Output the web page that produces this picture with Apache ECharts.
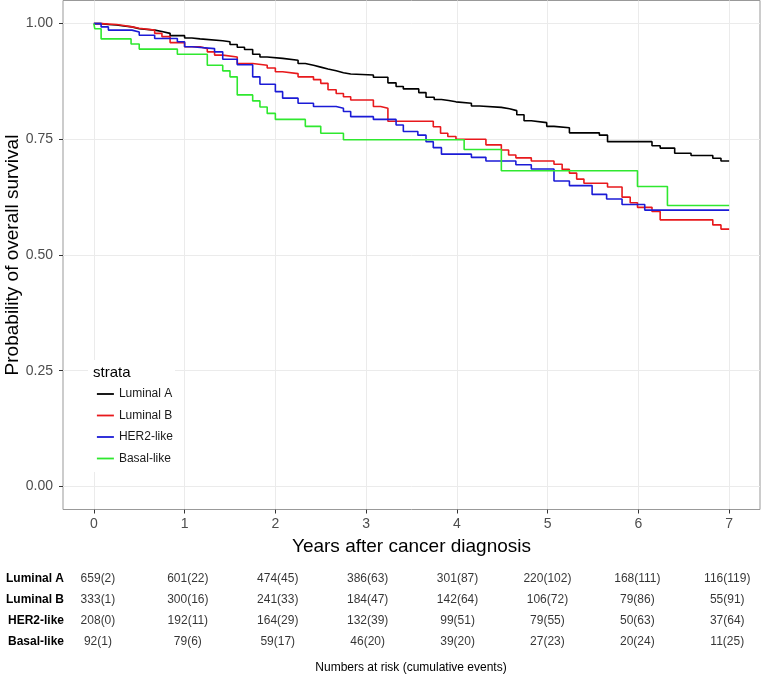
<!DOCTYPE html>
<html><head><meta charset="utf-8">
<script src="https://cdn.jsdelivr.net/npm/echarts@6/dist/echarts.min.js"></script>
<style>html,body{margin:0;padding:0;background:#fff}#c{width:761px;height:676px}</style>
</head><body><div id="c"></div>
<script>
// ---- data ----
const strataNames = ['Luminal A', 'Luminal B', 'HER2-like', 'Basal-like'];
const xTicks = [0, 1, 2, 3, 4, 5, 6, 7];
const yTicks = [0, 0.25, 0.5, 0.75, 1];

// Kaplan-Meier steps: [years, survival after step]
const lumA = [[0,1],[0.08,0.998],[0.16,0.997],[0.25,0.995],[0.33,0.993],[0.42,0.989],[0.5,0.986],[0.67,0.983],[0.75,0.979],[0.84,0.974],[1.0,0.969],[1.08,0.967],[1.17,0.963],[1.42,0.961],[1.5,0.955],[1.58,0.949],[1.66,0.944],[1.75,0.934],[1.83,0.928],[1.91,0.925],[2.08,0.921],[2.25,0.914],[2.33,0.910],[2.42,0.906],[2.5,0.902],[2.58,0.898],[2.67,0.894],[2.75,0.891],[2.83,0.889],[3.08,0.884],[3.24,0.872],[3.33,0.864],[3.41,0.859],[3.58,0.851],[3.66,0.841],[3.75,0.836],[3.83,0.834],[3.91,0.831],[3.99,0.828],[4.16,0.822],[4.25,0.819],[4.49,0.816],[4.58,0.812],[4.66,0.803],[4.74,0.790],[4.82,0.786],[4.99,0.778],[5.07,0.775],[5.24,0.764],[5.57,0.759],[5.66,0.745],[6.15,0.736],[6.24,0.731],[6.40,0.720],[6.58,0.715],[6.82,0.709],[6.91,0.703],[7.0,0.703]];
const lumB = [[0,1],[0.08,0.998],[0.25,0.996],[0.33,0.993],[0.42,0.990],[0.5,0.986],[0.67,0.979],[0.75,0.972],[0.84,0.959],[1.0,0.950],[1.17,0.946],[1.25,0.939],[1.33,0.932],[1.42,0.928],[1.58,0.914],[1.75,0.910],[1.91,0.904],[2.0,0.896],[2.08,0.892],[2.25,0.885],[2.42,0.879],[2.5,0.871],[2.58,0.857],[2.67,0.849],[2.75,0.842],[2.83,0.835],[3.08,0.821],[3.16,0.817],[3.24,0.789],[3.74,0.777],[3.82,0.763],[3.90,0.756],[3.99,0.750],[4.32,0.738],[4.49,0.727],[4.57,0.716],[4.65,0.710],[4.82,0.703],[5.07,0.696],[5.16,0.685],[5.24,0.677],[5.32,0.664],[5.40,0.655],[5.66,0.647],[5.82,0.625],[5.91,0.613],[5.99,0.603],[6.15,0.594],[6.24,0.576],[6.82,0.565],[6.91,0.556],[7.0,0.556]];
const her2 = [[0,1],[0.08,0.993],[0.16,0.986],[0.42,0.982],[0.5,0.975],[0.67,0.968],[0.92,0.961],[1.0,0.950],[1.08,0.946],[1.33,0.939],[1.42,0.923],[1.58,0.911],[1.75,0.885],[1.83,0.869],[2.0,0.853],[2.08,0.839],[2.25,0.828],[2.42,0.821],[2.67,0.817],[2.75,0.810],[2.83,0.799],[3.08,0.793],[3.33,0.781],[3.41,0.767],[3.57,0.759],[3.66,0.745],[3.74,0.732],[3.83,0.718],[4.16,0.711],[4.32,0.703],[4.65,0.695],[4.82,0.686],[5.07,0.660],[5.24,0.650],[5.49,0.631],[5.65,0.621],[5.82,0.609],[6.07,0.597],[7.0,0.597]];
const basal = [[0,1],[0.01,0.989],[0.08,0.967],[0.41,0.956],[0.5,0.945],[0.92,0.934],[1.25,0.910],[1.42,0.898],[1.5,0.885],[1.58,0.846],[1.75,0.833],[1.83,0.820],[1.91,0.806],[2.0,0.793],[2.33,0.778],[2.5,0.763],[2.75,0.749],[4.08,0.728],[4.49,0.682],[5.99,0.648],[6.32,0.607],[7.0,0.607]];

// numbers at risk (cumulative events)
const riskTimes = [0, 1, 2, 3, 4, 5, 6, 7];
const atRiskLumA = [659, 601, 474, 386, 301, 220, 168, 116];
const eventsLumA = [2, 22, 45, 63, 87, 102, 111, 119];
const atRiskLumB = [333, 300, 241, 184, 142, 106, 79, 55];
const eventsLumB = [1, 16, 33, 47, 64, 72, 86, 91];
const atRiskHer2 = [208, 192, 164, 132, 99, 79, 50, 37];
const eventsHer2 = [0, 11, 29, 39, 51, 55, 63, 64];
const atRiskBasal = [92, 79, 59, 46, 39, 27, 20, 11];
const eventsBasal = [1, 6, 17, 20, 20, 23, 24, 25];

// ---- styling ----
const FONT = '"Liberation Sans", Arial, Helvetica, sans-serif';
const colors = ['#000000', '#e8191c', '#1b1bd6', '#2fe82f'];
const curves = [lumA, lumB, her2, basal];
const atRisk = [atRiskLumA, atRiskLumB, atRiskHer2, atRiskBasal];
const events = [eventsLumA, eventsLumB, eventsHer2, eventsBasal];

const chart = echarts.init(document.getElementById('c'), null, {renderer: 'canvas'});

const series = [];
strataNames.forEach((name, i) => {
  series.push({
    name, type: 'line', step: 'end', data: curves[i],
    xAxisIndex: 0, yAxisIndex: 0,
    symbol: 'none', showSymbol: false, z: 3,
    lineStyle: {color: colors[i], width: 1.6},
    itemStyle: {color: colors[i]},
    emphasis: {disabled: true}, animation: false
  });
});
strataNames.forEach((name, i) => {
  series.push({
    name: 'risk ' + name, type: 'scatter', xAxisIndex: 1, yAxisIndex: 1,
    symbolSize: 0, silent: true, animation: false,
    data: riskTimes.map((t, k) => [t, i, atRisk[i][k], events[i][k]]),
    label: {
      show: true, position: 'inside', color: '#000', fontFamily: FONT, fontSize: 12,
      formatter: p => p.value[2] + '(' + p.value[3] + ')'
    }
  });
});

chart.setOption({
  animation: false,
  backgroundColor: '#fff',
  textStyle: {fontFamily: FONT},
  grid: [
    {left: 63, top: 0.5, width: 697, height: 509, show: true, borderColor: '#999', borderWidth: 1, backgroundColor: '#fff', containLabel: false, outerBoundsMode: 'none'},
    {left: 53, top: 568.5, width: 719.2, height: 84, show: false, containLabel: false, outerBoundsMode: 'none'}
  ],
  xAxis: [
    {type: 'value', gridIndex: 0, min: -0.34, max: 7.34,
     axisLine: {show: false, onZero: false},
     axisTick: {show: true, customValues: xTicks, length: 4, lineStyle: {color: '#333'}},
     axisLabel: {customValues: xTicks, fontSize: 14, color: '#4d4d4d', margin: 8, fontFamily: FONT},
     splitLine: {show: true, lineStyle: {color: '#ebebeb', width: 1}},
     name: 'Years after cancer diagnosis', nameLocation: 'middle', nameGap: 28, nameMoveOverlap: false,
     nameTextStyle: {fontSize: 19, color: '#000', fontFamily: FONT}},
    {type: 'value', gridIndex: 1, min: -0.5, max: 7.5, show: false}
  ],
  yAxis: [
    {type: 'value', gridIndex: 0, min: -0.05, max: 1.05,
     axisLine: {show: false, onZero: false},
     axisTick: {show: true, customValues: yTicks, length: 4, lineStyle: {color: '#333'}},
     axisLabel: {customValues: yTicks, formatter: v => v.toFixed(2), fontSize: 14, color: '#4d4d4d', margin: 10, fontFamily: FONT},
     splitLine: {show: true, lineStyle: {color: '#ebebeb', width: 1}},
     name: 'Probability of overall survival', nameLocation: 'middle', nameGap: 41, nameMoveOverlap: false,
     nameTextStyle: {fontSize: 19, color: '#000', fontFamily: FONT}},
    {type: 'category', gridIndex: 1, data: strataNames, inverse: true,
     axisLine: {show: false}, axisTick: {show: false}, splitLine: {show: false},
     axisLabel: {fontSize: 12, fontWeight: 'bold', color: '#000', margin: -11, fontFamily: FONT}}
  ],
  legend: {
    data: strataNames, orient: 'vertical', left: 96, top: 388,
    itemWidth: 17, itemHeight: 12, itemGap: 9.5, padding: 0,
    selectedMode: false,
    itemStyle: {opacity: 0, borderWidth: 0},
    lineStyle: {width: 1.8},
    textStyle: {fontSize: 12, color: '#1a1a1a', fontFamily: FONT}
  },
  graphic: [
    {type: 'rect', z: 1, silent: true, shape: {x: 88, y: 360, width: 87, height: 112}, style: {fill: '#fff'}},
    {type: 'text', z: 5, silent: true, x: 93, y: 373, style: {text: 'strata', font: '15px ' + FONT, fill: '#000', verticalAlign: 'middle', textVerticalAlign: 'middle'}},
    {type: 'text', z: 5, silent: true, x: 411, y: 668, style: {text: 'Numbers at risk (cumulative events)', font: '12px ' + FONT, fill: '#000', align: 'center', textAlign: 'center', verticalAlign: 'middle', textVerticalAlign: 'middle'}}
  ],
  series
});
</script></body></html>
